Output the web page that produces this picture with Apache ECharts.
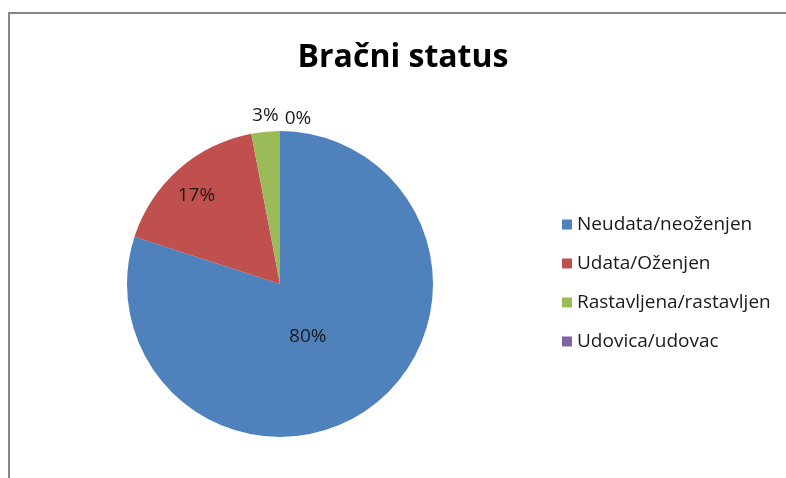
<!DOCTYPE html>
<html>
<head>
    <meta charset="utf-8">
    <title>Bračni status</title>
    <script src="https://cdn.jsdelivr.net/npm/echarts@6/dist/echarts.min.js"></script>
    <style>
        html, body { margin: 0; padding: 0; background: #fff; }
        #main { width: 786px; height: 478px; }
    </style>
</head>
<body>
<div id="main"></div>
<script type="text/javascript">
    // data
    var categories = ['Neudata/neoženjen', 'Udata/Oženjen', 'Rastavljena/rastavljen', 'Udovica/udovac'];
    var values = [80, 17, 3, 0];
    var colors = ['#4F81BD', '#C0504D', '#9BBB59', '#8064A2'];

    var font = 'Open Sans';
    var chart = echarts.init(document.getElementById('main'));

    // nudge labels toward where Excel's "best fit" put them
    // (the empty slice only keeps its label as an inner one, so it is pushed out by offset)
    var labelTweaks = [
        { offset: [-19, -12] },
        { offset: [-31, -29] },
        { position: 'outside', offset: [19, -6] },
        { offset: [18, -86] }
    ];

    var pieData = categories.map(function (name, i) {
        return {
            name: name,
            value: values[i],
            itemStyle: { color: colors[i] },
            label: labelTweaks[i]
        };
    });

    var option = {
        animation: false,
        textStyle: { fontFamily: font },
        title: {
            text: 'Bračni status',
            left: 398,
            top: 37,
            textAlign: 'center',
            textStyle: { fontFamily: font, fontSize: 32, fontWeight: 'bold', color: '#000' }
        },
        legend: {
            orient: 'vertical',
            left: 557,
            top: 210,
            itemWidth: 10,
            itemHeight: 10,
            itemGap: 20,
            icon: 'rect',
            data: categories,
            textStyle: { fontFamily: font, fontSize: 19, color: '#1a1a1a' }
        },
        graphic: [
            { type: 'line', shape: { x1: 9, y1: 13, x2: 786, y2: 13 }, style: { stroke: '#868686', lineWidth: 2 } },
            { type: 'line', shape: { x1: 9, y1: 12, x2: 9, y2: 478 }, style: { stroke: '#868686', lineWidth: 2 } }
        ],
        series: [{
            type: 'pie',
            center: [280, 284],
            radius: 153,
            startAngle: 90,
            clockwise: true,
            avoidLabelOverlap: false,
            percentPrecision: 0,
            itemStyle: { borderWidth: 0 },
            label: {
                show: true,
                position: 'inner',
                formatter: '{d}%',
                fontFamily: font,
                fontSize: 19,
                color: '#1a1a1a'
            },
            labelLine: { show: false, length: 10, length2: 0 },
            data: pieData
        }]
    };

    chart.setOption(option);
</script>
</body>
</html>
